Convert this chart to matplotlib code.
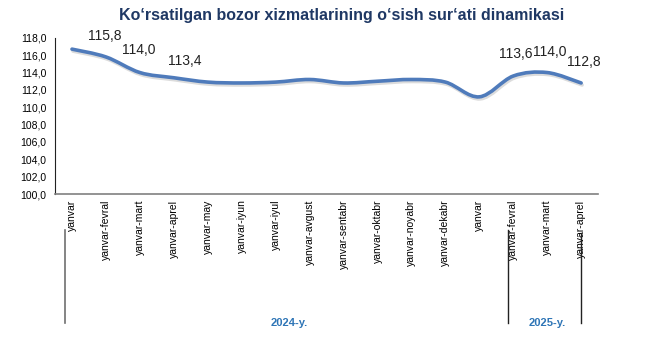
import numpy as np
import matplotlib.pyplot as plt
from matplotlib.path import Path
from matplotlib.patches import PathPatch
import matplotlib.transforms as mtransforms

plt.rcParams['font.family'] = ['Liberation Sans', 'DejaVu Sans']

# data
months = ['yanvar', 'yanvar-fevral', 'yanvar-mart', 'yanvar-aprel', 'yanvar-may',
          'yanvar-iyun', 'yanvar-iyul', 'yanvar-avgust', 'yanvar-sentabr',
          'yanvar-oktabr', 'yanvar-noyabr', 'yanvar-dekabr',
          'yanvar', 'yanvar-fevral', 'yanvar-mart', 'yanvar-aprel']
values = [116.7, 115.8, 114.0, 113.4, 112.9, 112.8, 112.9, 113.2, 112.8,
          113.0, 113.2, 112.9, 111.2, 113.6, 114.0, 112.8]
labeled = [1, 2, 3, 13, 14, 15]
label_offsets = {1: (-1, 10), 2: (-1, 11), 3: (8, 7), 13: (2, 11), 14: (2, 10), 15: (2, 10)}
years = ['2024-y.', '2025-y.']

fig = plt.figure(figsize=(6.45, 3.38), dpi=100)
ax = fig.add_axes([0.0853, 0.426, 0.842, 0.462])

x = np.arange(len(values))
y = np.array(values)

# smooth line like Excel (Catmull-Rom -> cubic Bezier)
verts = [(x[0], y[0])]
codes = [Path.MOVETO]
for i in range(len(x) - 1):
    p0 = np.array([x[max(i - 1, 0)], y[max(i - 1, 0)]])
    p1 = np.array([x[i], y[i]])
    p2 = np.array([x[i + 1], y[i + 1]])
    p3 = np.array([x[min(i + 2, len(x) - 1)], y[min(i + 2, len(x) - 1)]])
    c1 = p1 + (p2 - p0) / 6
    c2 = p2 - (p3 - p1) / 6
    verts += [tuple(c1), tuple(c2), tuple(p2)]
    codes += [Path.CURVE4] * 3
path = Path(verts, codes)

shadow = PathPatch(path, facecolor='none', edgecolor='#dcdcdc', lw=2.6,
                   transform=ax.transData + mtransforms.ScaledTranslation(1 / 100, -2 / 100, fig.dpi_scale_trans),
                   capstyle='round', zorder=2)
ax.add_patch(shadow)
ax.add_patch(PathPatch(path, facecolor='none', edgecolor='#4f7bbb', lw=2.6,
                       capstyle='round', zorder=3))

for i in labeled:
    dx, dy = label_offsets[i]
    ax.annotate(f'{values[i]:.1f}'.replace('.', ','), (x[i], y[i]),
                xytext=(dx, dy), textcoords='offset points',
                ha='center', va='bottom', fontsize=10, color='#222222')

ax.set_xlim(-0.5, len(values) - 0.5)
ax.set_ylim(100, 118)
ax.set_yticks(np.arange(100, 118.1, 2))
ax.set_yticklabels([f'{v:.1f}'.replace('.', ',') for v in np.arange(100, 118.1, 2)], fontsize=7.5)
ax.set_xticks(x)
ax.set_xticklabels(months, rotation=90, fontsize=7.5, va='top', ha='center')
ax.tick_params(axis='both', length=0, pad=4)
ax.tick_params(axis='y', pad=6)

for s in ['top', 'right']:
    ax.spines[s].set_visible(False)
ax.spines['left'].set_color('#222222')
ax.spines['bottom'].set_color('#808080')
ax.spines['bottom'].set_linewidth(1.2)

fig.text(0.53, 0.955, 'Ko‘rsatilgan bozor xizmatlarining o‘sish sur‘ati dinamikasi',
         ha='center', va='center', fontsize=11.5, fontweight='bold', color='#1f3864')

# year group separators
tr = mtransforms.blended_transform_factory(ax.transData, fig.transFigure)
ax.plot([-0.21, -0.21], [0.044, 0.32], color='#707070', lw=1.2, transform=tr, clip_on=False)
ax.plot([12.86, 12.86], [0.044, 0.32], color='#222222', lw=1.0, transform=tr, clip_on=False)
ax.plot([15.0, 15.0], [0.044, 0.31], color='#222222', lw=1.0, transform=tr, clip_on=False)
ax.text(6.4, 0.044, years[0], transform=tr, ha='center', va='center',
        fontsize=8, fontweight='bold', color='#2e75b6')
ax.text(14.0, 0.044, years[1], transform=tr, ha='center', va='center',
        fontsize=8, fontweight='bold', color='#2e75b6')

fig.savefig('out.png', dpi=100)
